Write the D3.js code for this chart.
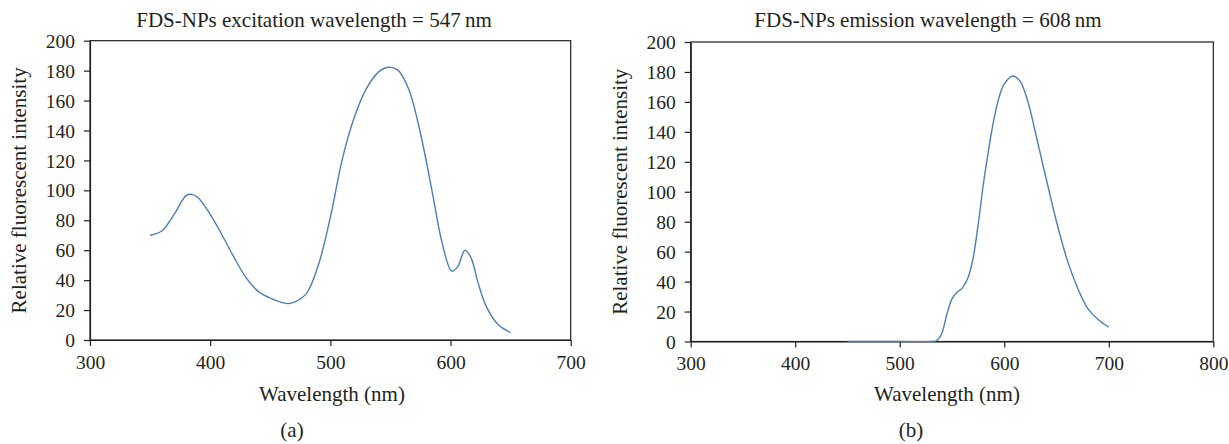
<!DOCTYPE html>
<html><head><meta charset="utf-8">
<script src="https://cdn.jsdelivr.net/npm/d3@7"></script>
<style>
html,body{margin:0;padding:0;background:#fff;}
svg{display:block;}
text{font-family:"Liberation Serif","Times New Roman",serif;fill:#231f20;}
</style></head>
<body>
<svg id="c" width="1229" height="444"></svg>
<script>
// Panel (a): excitation spectrum
const exWavelength = [350,360,370,380,385,390,400,410,420,430,440,450,460,465,470,480,490,500,510,520,530,540,548,556,565,575,585,593,601,606,612,617,623,630,640,650];
const exIntensity  = [70,73,84,96.5,97.3,95,84,70,55,41.5,32.5,28,25,24.3,25.3,31,50,82,121,149,168,179,182.3,180.5,168,138,98,65,46,49,60,55,38,22,10,5];
// Panel (b): emission spectrum
const emWavelength = [450,500,530,535,540,545,550,555,560,565,570,575,580,585,590,595,600,608,615,620,625,630,640,650,660,670,680,690,700];
const emIntensity  = [0,0,0,0.5,5,18,28.5,33,35.8,42,55,78,105,128,148,163,172,177.3,174,166,154,139,109,80,55,36,22,14.5,9.5];
const yTicks = [0,20,40,60,80,100,120,140,160,180,200];
const xTicksA = [300,400,500,600,700];
const xTicksB = [300,400,500,600,700,800];
const titleA = "FDS-NPs excitation wavelength = 547\u2009nm";
const titleB = "FDS-NPs emission wavelength = 608\u2009nm";
const xLabel = "Wavelength (nm)";
const yLabel = "Relative fluorescent intensity";

const svg = d3.select("#c");
svg.append("rect").attr("width",1229).attr("height",444).attr("fill","#fff");
const FS = 21, TFS = 19.5;

function panel(cfg){
  const g = svg.append("g");
  const x = d3.scaleLinear().domain(cfg.xDomain).range([cfg.left, cfg.right]);
  const y = d3.scaleLinear().domain([0,200]).range([cfg.bottom, cfg.top]);
  g.append("rect").attr("x",cfg.left).attr("y",cfg.top)
    .attr("width",cfg.right-cfg.left).attr("height",cfg.bottom-cfg.top)
    .attr("fill","none").attr("stroke","#231f20").attr("stroke-width",1.2);
  const ya = g.append("g").attr("transform",`translate(${cfg.left},0)`)
    .call(d3.axisLeft(y).tickValues(yTicks).tickSize(6).tickSizeOuter(0).tickPadding(9));
  const xa = g.append("g").attr("transform",`translate(0,${cfg.bottom})`)
    .call(d3.axisBottom(x).tickValues(cfg.xTicks).tickSize(6).tickSizeOuter(0).tickPadding(9));
  [ya,xa].forEach(a=>{
    a.select(".domain").attr("stroke","#231f20").attr("stroke-width",1.2);
    a.selectAll(".tick line").attr("stroke","#231f20").attr("stroke-width",1.2);
    a.selectAll(".tick text").attr("font-size",TFS).attr("font-family","Liberation Serif").attr("fill","#231f20");
  });
  ya.selectAll(".tick text").attr("dy","0.34em");
  const line = d3.line().x(d=>x(d[0])).y(d=>y(d[1])).curve(d3.curveCatmullRom.alpha(0.5));
  g.append("path").datum(d3.zip(cfg.xs, cfg.ys)).attr("d",line)
    .attr("fill","none").attr("stroke","#4a7ebb").attr("stroke-width",1.4);
  g.append("text").attr("x",cfg.titleX).attr("y",27).attr("text-anchor","middle")
    .attr("font-size",FS).text(cfg.title);
  g.append("text").attr("x",cfg.xLabelX).attr("y",401).attr("text-anchor","middle")
    .attr("font-size",FS).text(xLabel);
  g.append("text").attr("transform",`translate(${cfg.yLabelX},${(cfg.top+cfg.bottom)/2}) rotate(-90)`)
    .attr("text-anchor","middle").attr("font-size",FS).text(yLabel);
  g.append("text").attr("x",cfg.capX).attr("y",437).attr("text-anchor","middle")
    .attr("font-size",FS).text(cfg.cap);
}

panel({xDomain:[300,700], left:90, right:570.7, top:40.7, bottom:340, xTicks:xTicksA,
  xs:exWavelength, ys:exIntensity, title:titleA, titleX:314, xLabelX:332, yLabelX:26, capX:292, cap:"(a)"});
panel({xDomain:[300,800], left:690.7, right:1213.3, top:42, bottom:341.5, xTicks:xTicksB,
  xs:emWavelength, ys:emIntensity, title:titleB, titleX:928, xLabelX:947, yLabelX:627, capX:911, cap:"(b)"});
</script>
</body></html>
